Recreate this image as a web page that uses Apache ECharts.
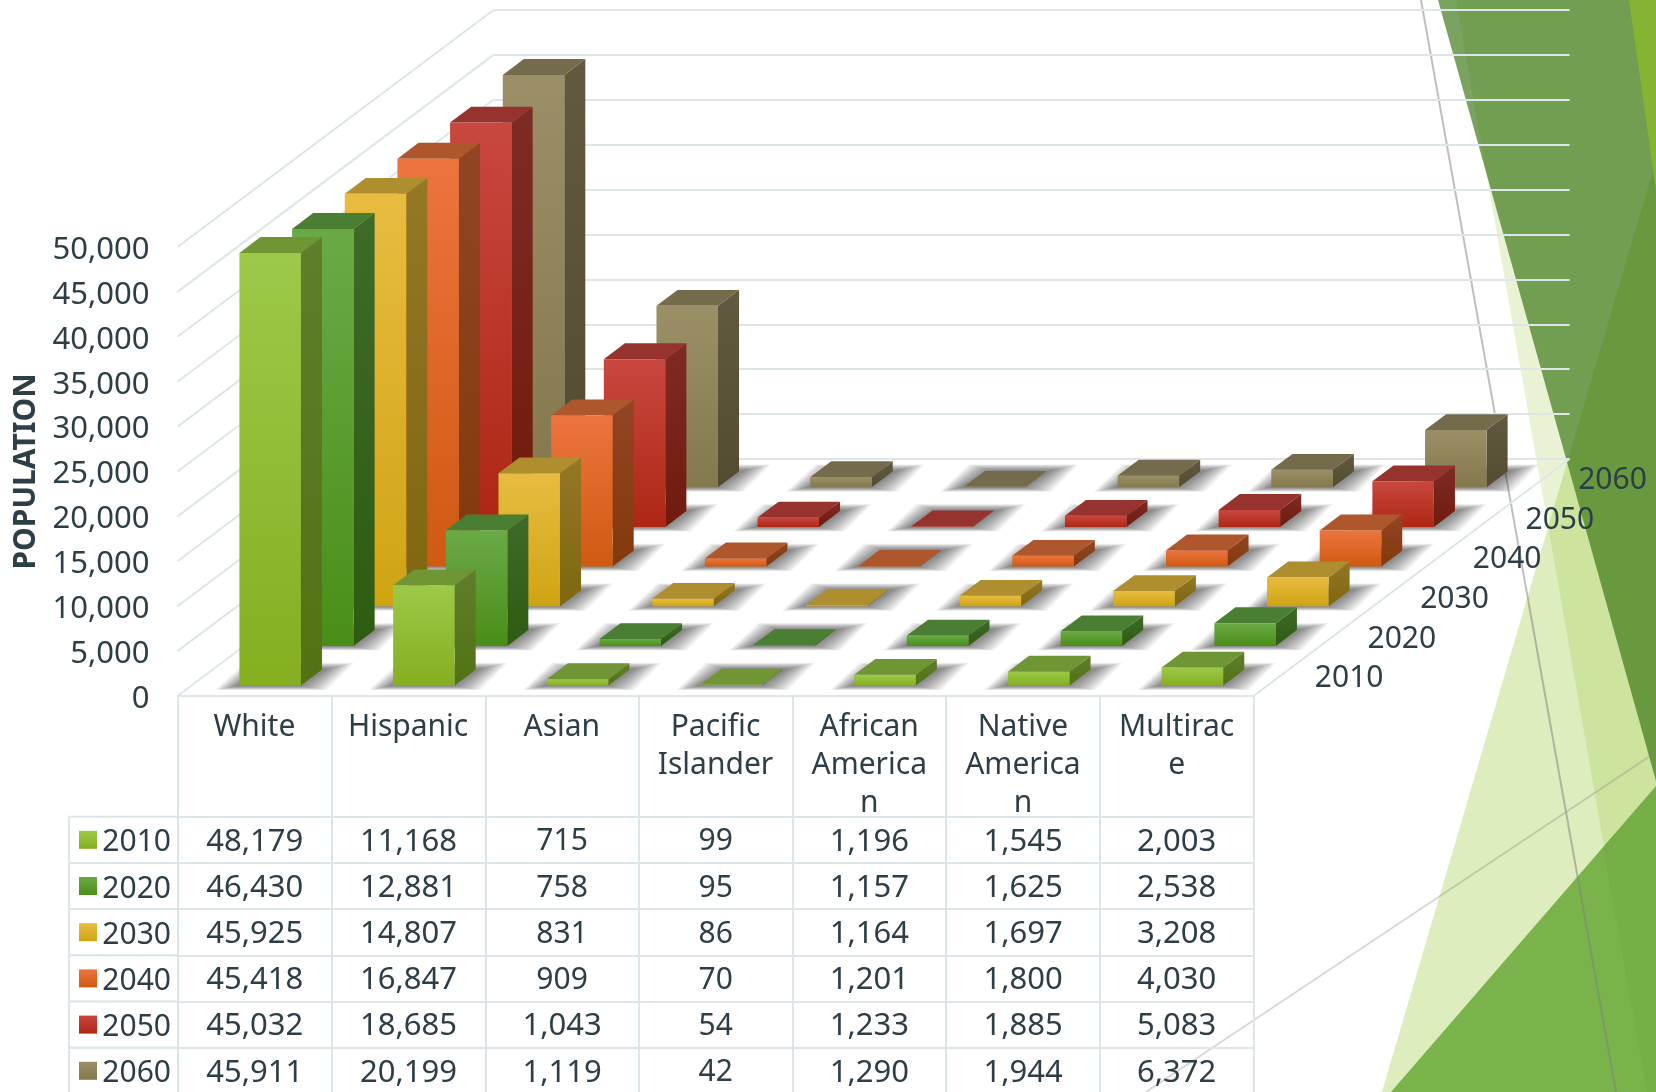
<!DOCTYPE html>
<html>
<head>
<meta charset="utf-8">
<style>html,body{margin:0;padding:0;background:#fff;overflow:hidden}#c{width:1656px;height:1092px}</style>
<script src="https://cdn.jsdelivr.net/npm/echarts@6/dist/echarts.min.js"></script>
</head>
<body>
<div id="c"></div>
<script>
const categories = ['White','Hispanic','Asian','Pacific\nIslander','African\nAmerica\nn','Native\nAmerica\nn','Multirac\ne'];
const years = ['2010','2020','2030','2040','2050','2060'];
const v2010 = [48179,11168,715,99,1196,1545,2003];
const v2020 = [46430,12881,758,95,1157,1625,2538];
const v2030 = [45925,14807,831,86,1164,1697,3208];
const v2040 = [45418,16847,909,70,1201,1800,4030];
const v2050 = [45032,18685,1043,54,1233,1885,5083];
const v2060 = [45911,20199,1119,42,1290,1944,6372];
const allValues = [v2010,v2020,v2030,v2040,v2050,v2060];
const yTicks = [0,5000,10000,15000,20000,25000,30000,35000,40000,45000,50000];
const faceColors = [
  {hi:'#9CC948',lo:'#85AE20',top:'#6F9534',s1:'#607E2B',s2:'#527214'},
  {hi:'#6AAA46',lo:'#4A8E18',top:'#4A7E33',s1:'#3F6A2A',s2:'#2E5C10'},
  {hi:'#E8BC41',lo:'#CFA412',top:'#AE8E2F',s1:'#937826',s2:'#7F660F'},
  {hi:'#EC743F',lo:'#CF5A10',top:'#AE572D',s1:'#914524',s2:'#84390B'},
  {hi:'#C8473F',lo:'#AE2714',top:'#97332E',s1:'#7F2B25',s2:'#711A0D'},
  {hi:'#9A8F66',lo:'#84794D',top:'#746B4D',s1:'#615A40',s2:'#544C30'}
];
const TEXT = '#2D3E47', LINE = '#DDE7EA', FONT = '"Noto Sans"';
const FS = 30, FSN = 31;

// layout
const L = 177.5, R = 1253.5, FRONT = 696, TOP = 247;
const SX = 52.67, SY = 39.67, BAR = 0.4, GAP0 = 0.3, BAR_DY = 1.5;
const HEAD_B = 816.7, ROW = 46.2, TEXT_DY = 3, CELL_DY = 2;

function grad(a,b){return {type:'linear',x:0,y:0,x2:0,y2:1,colorStops:[{offset:0,color:a},{offset:1,color:b}]};}

function barRender(d){
  const col = faceColors[d];
  return function(params, api){
    const c = api.value(0), v = api.value(1);
    const base = api.coord([c,0]), top = api.coord([c,v]);
    const band = api.size([1,0])[0], w = band*BAR;
    const dx0 = SX*(d+GAP0), dy0 = SY*(d+GAP0);
    const ddx = SX*BAR, ddy = SY*BAR;
    const x0 = base[0]-w/2+dx0, x1 = x0+w;
    const yb = base[1]-dy0+BAR_DY, yt = top[1]-dy0+BAR_DY;
    return {type:'group',children:[
      {type:'polygon',shape:{points:[[x1,yb],[x1+ddx,yb-ddy],[x1+ddx,yt-ddy],[x1,yt]]},style:{fill:grad(col.s1,col.s2)}},
      {type:'polygon',shape:{points:[[x0,yt],[x1,yt],[x1+ddx,yt-ddy],[x0+ddx,yt-ddy]]},style:{fill:col.top}},
      {type:'rect',shape:{x:x0,y:yt,width:w,height:Math.max(yb-yt,0)},style:{fill:grad(col.hi,col.lo)}}
    ]};
  };
}
// soft floor shadow built from nested translucent parallelograms
const SHADOW_LAYERS = 14;
function shadowRender(d){
  return function(params, api){
    const c = api.value(0);
    const base = api.coord([c,0]);
    const band = api.size([1,0])[0], w = band*BAR;
    const dx0 = SX*(d+GAP0), dy0 = SY*(d+GAP0);
    const ddx = SX*BAR, ddy = SY*BAR;
    const x0 = base[0]-w/2+dx0, x1 = x0+w;
    const yb = base[1]-dy0+BAR_DY;
    const children = [];
    for(let k=0;k<SHADOW_LAYERS;k++){
      const t = k/(SHADOW_LAYERS-1);       // 0 outer, 1 inner
      const eL = 24-20*t, eR = 32-26*t, eF = 4.5-4*t, eB = 7-6*t;
      children.push({type:'polygon',shape:{points:[
        [x0-eL,yb+eF],[x1+eR-ddx*0.3,yb+eF],[x1+ddx+eR,yb-ddy-eB],[x0+ddx-eL+8,yb-ddy-eB]
      ]},style:{fill:'rgba(40,40,40,0.05)'}});
    }
    return {type:'group',children};
  };
}

const series = [];
// left wall lines
series.push({type:'custom',xAxisIndex:0,yAxisIndex:0,z:1,silent:true,clip:false,
  data:yTicks.map(t=>[0,t]),encode:{x:0,y:1},
  renderItem:function(p,api){
    const pt = api.coord([0,api.value(1)]), band = api.size([1,0])[0];
    const x = pt[0]-band/2;
    return {type:'line',shape:{x1:x,y1:pt[1],x2:x+SX*6,y2:pt[1]-SY*6+1},style:{stroke:LINE,lineWidth:2}};
  }});
// right floor edge
series.push({type:'custom',xAxisIndex:0,yAxisIndex:0,z:1,silent:true,clip:false,
  data:[[categories.length-1,0]],encode:{x:0,y:1},
  renderItem:function(p,api){
    const pt = api.coord([api.value(0),0]), band = api.size([1,0])[0];
    const x = pt[0]+band/2;
    return {type:'line',shape:{x1:x,y1:pt[1],x2:x+SX*6,y2:pt[1]-SY*6+1},style:{stroke:LINE,lineWidth:2}};
  }});
// floor shadows then bars, back to front
for(let d=years.length-1;d>=0;d--){
  series.push({type:'custom',name:years[d]+' shadow',xAxisIndex:0,yAxisIndex:0,z:2,silent:true,clip:false,
    data:allValues[d].map((v,i)=>[i,v]),encode:{x:0,y:1},renderItem:shadowRender(d)});
}
for(let d=years.length-1;d>=0;d--){
  series.push({type:'custom',name:years[d],xAxisIndex:0,yAxisIndex:0,z:10+(years.length-d),silent:true,clip:false,
    data:allValues[d].map((v,i)=>[i,v]),encode:{x:0,y:1},renderItem:barRender(d)});
}
// depth axis labels
series.push({type:'custom',xAxisIndex:0,yAxisIndex:0,z:20,silent:true,clip:false,
  data:years.map((y,i)=>[categories.length-1,0,i]),encode:{x:0,y:1},
  renderItem:function(p,api){
    const pt = api.coord([api.value(0),0]), band = api.size([1,0])[0], i = api.value(2);
    return {type:'text',style:{text:years[i],x:pt[0]+band/2+SX*(i+0.5)+35,y:pt[1]-SY*(i+0.5)+TEXT_DY-0.5,
      fill:TEXT,font:FS+'px '+FONT,textAlign:'left',textVerticalAlign:'middle'}};
  }});
// data table cells
const cellData = [];
allValues.forEach((arr,r)=>arr.forEach((v,c)=>cellData.push([c,r,v])));
series.push({type:'custom',xAxisIndex:2,yAxisIndex:2,z:20,silent:true,clip:false,
  data:cellData,encode:{x:0,y:1},
  renderItem:function(p,api){
    const pt = api.coord([api.value(0),api.value(1)]), val = api.value(2);
    return {type:'text',style:{text:val.toLocaleString('en-US'),x:pt[0],y:pt[1]+CELL_DY,
      fill:TEXT,font:(val>=1000?FSN:FS)+'px '+FONT,textAlign:'center',textVerticalAlign:'middle'}};
  }});
// legend keys and left column cells
series.push({type:'custom',xAxisIndex:2,yAxisIndex:2,z:20,silent:true,clip:false,
  data:years.map((y,i)=>[0,i]),encode:{x:0,y:1},
  renderItem:function(p,api){
    const i = api.value(1), pt = api.coord([0,i]);
    const band = api.size([1,0])[0], h = api.size([0,1])[1];
    const xl = pt[0]-band/2;
    return {type:'group',children:[
      {type:'rect',shape:{x:xl-109,y:pt[1]-h/2,width:109,height:h},style:{fill:'none',stroke:LINE,lineWidth:2}},
      {type:'rect',shape:{x:xl-99,y:pt[1]-9,width:18,height:18},style:{fill:grad(faceColors[i].hi,faceColors[i].lo)}}
    ]};
  }});
series.push({type:'custom',xAxisIndex:3,yAxisIndex:3,silent:true,data:[],encode:{x:0,y:1},renderItem:function(){return {type:'group',children:[]};}});
series.push({type:'custom',xAxisIndex:1,yAxisIndex:1,silent:true,data:[],encode:{x:0,y:1},renderItem:function(){return {type:'group',children:[]};}});

function poly(points,fill){return {type:'polygon',z:-10,silent:true,shape:{points:points},style:{fill:fill}};}
function seg(x1,y1,x2,y2,stroke){return {type:'line',z:-9,silent:true,shape:{x1,y1,x2,y2},style:{stroke,lineWidth:2}};}

const option = {
  animation:false,
  backgroundColor:'#ffffff',
  textStyle:{fontFamily:FONT},
  graphic:{elements:[
    poly([[1382,1092],[1656,160],[1656,1092]],'rgba(144,194,38,0.3)'),
    poly([[1456,0],[1656,0],[1656,1092],[1647,1092]],'rgba(144,194,38,0.2)'),
    poly([[1391,1092],[1656,786],[1656,1092]],'#7AB34C'),
    poly([[1603,847],[1656,786],[1656,1092],[1647,1092]],'rgba(50,112,12,0.07)'),
    poly([[1438,0],[1656,0],[1656,781]],'rgba(50,112,12,0.65)'),
    poly([[1629,0],[1656,0],[1656,190]],'#85B432'),
    seg(1421,0,1616,1092,'rgba(128,128,128,0.5)'),
    seg(1146,1092,1656,752,'rgba(128,128,128,0.3)')
  ]},
  grid:[
    {left:L,top:TOP,width:R-L,height:FRONT-TOP,outerBoundsMode:'none',containLabel:false},
    {left:L+SX*6,top:TOP-SY*6+1,width:R-L,height:FRONT-TOP,outerBoundsMode:'none',containLabel:false},
    {left:L+0.5,top:HEAD_B,width:R-L-0.5,height:ROW*6,outerBoundsMode:'none',containLabel:false},
    {left:L+0.5,top:FRONT,width:R-L-0.5,height:HEAD_B-FRONT,outerBoundsMode:'none',containLabel:false}
  ],
  xAxis:[
    {gridIndex:0,type:'category',data:categories,
     axisLine:{show:true,lineStyle:{color:LINE,width:2}},axisTick:{show:false},
     axisLabel:{interval:0,color:TEXT,fontSize:FS,fontFamily:FONT,margin:12,lineHeight:38,verticalAlign:'top',align:'center',hideOverlap:false}},
    {gridIndex:1,type:'category',data:categories,axisLine:{show:false},axisTick:{show:false},axisLabel:{show:false}},
    {gridIndex:2,type:'category',data:categories,position:'top',
     axisLine:{show:true,lineStyle:{color:LINE,width:2}},axisTick:{show:false},axisLabel:{show:false},
     splitLine:{show:true,interval:0,lineStyle:{color:LINE,width:2}}},
    {gridIndex:3,type:'category',data:categories,
     axisLine:{show:false},axisTick:{show:false},axisLabel:{show:false},
     splitLine:{show:true,interval:0,lineStyle:{color:LINE,width:2}}}
  ],
  yAxis:[
    {gridIndex:0,type:'value',min:0,max:50000,interval:5000,
     name:'POPULATION',nameLocation:'middle',nameRotate:90,nameGap:132,
     nameTextStyle:{color:TEXT,fontSize:30,fontWeight:'bold',fontFamily:FONT},
     axisLine:{show:false},axisTick:{show:false},splitLine:{show:false},
     axisLabel:{color:TEXT,fontSize:FSN,fontFamily:FONT,margin:28,verticalAlign:'top',lineHeight:TEXT_DY*2,hideOverlap:false,formatter:v=>v.toLocaleString('en-US')}},
    {gridIndex:1,type:'value',min:0,max:50000,interval:5000,
     axisLine:{show:false},axisTick:{show:false},axisLabel:{show:false},
     splitLine:{show:true,lineStyle:{color:LINE,width:2}}},
    {gridIndex:2,type:'category',data:years,inverse:true,
     axisLine:{show:false},axisTick:{show:false},
     axisLabel:{color:TEXT,fontSize:FS,fontFamily:FONT,margin:7,verticalAlign:'top',lineHeight:TEXT_DY*2,hideOverlap:false},
     splitLine:{show:true,interval:0,lineStyle:{color:LINE,width:2}}},
    {gridIndex:3,type:'value',min:0,max:1,axisLine:{show:false},axisTick:{show:false},axisLabel:{show:false},splitLine:{show:false}}
  ],
  series:series
};
const chart = echarts.init(document.getElementById('c'),null,{renderer:'canvas'});
chart.setOption(option);
</script>
</body>
</html>
